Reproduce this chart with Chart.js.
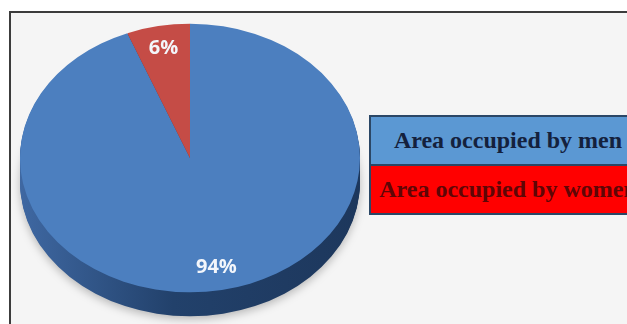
<!DOCTYPE html>
<html>
<head>
<meta charset="utf-8">
<script src="https://cdn.jsdelivr.net/npm/chart.js"></script>
<style>
html,body{margin:0;width:627px;height:324px;overflow:hidden;background:#fff;}
#frame{position:absolute;left:9px;top:11px;width:700px;height:400px;border:2px solid #3c3c3c;background:#f5f5f5;}
#pie{position:absolute;left:0;top:0;}
#legend{position:absolute;left:369px;top:115px;width:274px;border:2px solid #2b4766;font:bold 24px "Liberation Serif",serif;}
#legend div{height:47px;line-height:47px;text-align:center;white-space:nowrap;}
#legend div + div{border-top:2px solid #2b4766;}
</style>
</head>
<body>
<div id="frame"></div>
<canvas id="pie" width="627" height="400"></canvas>
<div id="legend"></div>
<script>
const labels = ["Area occupied by men", "Area occupied by women"];
const shares = [94, 6];
const sliceColors = ["#4c7fbf", "#c54c46"];
const sideColors = ["#24436d", "#7a2a27"];
const legendColors = ["#5b98d3", "#ff0000"];
const legendText = ["#14213d", "#5e0606"];

// pie top face is squashed vertically and pushed onto a dark wall
const squash = 0.79;
const faceY = 158;
const depth = 24;

// legend boxes
const legend = document.getElementById("legend");
labels.forEach((l, i) => {
  const row = document.createElement("div");
  row.textContent = l;
  row.style.background = legendColors[i];
  row.style.color = legendText[i];
  legend.appendChild(row);
});

function tiltTo(ctx, cx, cy, y) {
  ctx.translate(cx, y);
  ctx.scale(1, squash);
  ctx.translate(-cx, -cy);
}

const tilt = {
  id: "tilt",
  beforeDatasetsDraw(chart) {
    const ctx = chart.ctx;
    const arcs = chart.getDatasetMeta(0).data;
    const cx = arcs[0].x, cy = arcs[0].y, r = arcs[0].outerRadius;
    const wall = ctx.createLinearGradient(cx - r, 0, cx + r, 0);
    wall.addColorStop(0, "#3f68a2");
    wall.addColorStop(0.45, "#22416b");
    wall.addColorStop(1, "#1d375c");
    for (let d = depth; d > 0; d--) {
      ctx.save();
      tiltTo(ctx, cx, cy, faceY + d);
      if (d === depth) {
        ctx.shadowColor = "rgba(0,0,0,0.25)";
        ctx.shadowBlur = 8;
        ctx.shadowOffsetY = 3;
      }
      arcs.forEach((arc, i) => {
        ctx.beginPath();
        ctx.moveTo(arc.x, arc.y);
        ctx.arc(arc.x, arc.y, arc.outerRadius, arc.startAngle, arc.endAngle);
        ctx.closePath();
        ctx.fillStyle = i === 0 ? wall : sideColors[i];
        ctx.fill();
      });
      ctx.restore();
    }
    ctx.save();
    tiltTo(ctx, cx, cy, faceY);
  },
  afterDatasetsDraw(chart) {
    const ctx = chart.ctx;
    ctx.restore();
    const arcs = chart.getDatasetMeta(0).data;
    const total = shares.reduce((a, b) => a + b, 0);
    ctx.save();
    ctx.font = "bold 20px 'Open Sans'";
    ctx.fillStyle = "#f3f6fb";
    ctx.textAlign = "center";
    ctx.textBaseline = "middle";
    arcs.forEach((arc, i) => {
      const mid = (arc.startAngle + arc.endAngle) / 2;
      const rr = arc.outerRadius * 0.83;
      const x = arc.x + Math.cos(mid) * rr;
      const y = faceY + Math.sin(mid) * rr * squash;
      ctx.fillText(Math.round(shares[i] / total * 100) + "%", x, y);
    });
    ctx.restore();
  }
};

new Chart(document.getElementById("pie"), {
  type: "pie",
  data: {
    labels: labels,
    datasets: [{
      data: shares,
      backgroundColor: sliceColors,
      borderWidth: 0,
      hoverOffset: 0
    }]
  },
  options: {
    responsive: false,
    animation: false,
    events: [],
    layout: { padding: { left: 20, right: 267, top: 0, bottom: 60 } },
    plugins: {
      legend: { display: false },
      tooltip: { enabled: false }
    }
  },
  plugins: [tilt]
});
</script>
</body>
</html>
